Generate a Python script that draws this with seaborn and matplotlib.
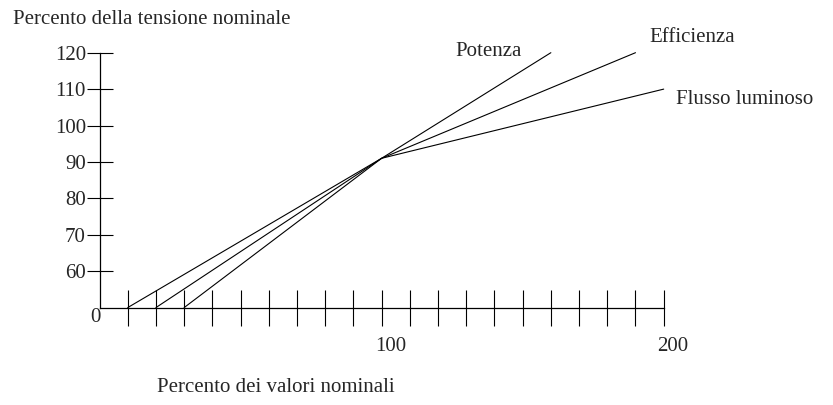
import matplotlib
matplotlib.use("Agg")
import matplotlib.pyplot as plt
import matplotlib.transforms as mtransforms
import seaborn as sns
import pandas as pd

# ---- data ----
series_names = ["Potenza", "Efficienza", "Flusso luminoso"]
potenza_x = [10, 100, 160]
potenza_y = [50, 91, 120]
efficienza_x = [20, 100, 190]
efficienza_y = [50, 91, 120]
flusso_x = [30, 100, 200]
flusso_y = [50, 91, 110]

y_ticks = [60, 70, 80, 90, 100, 110, 120]
x_ticks = list(range(10, 201, 10))
x_tick_labels = {100: "100", 200: "200"}

title_text = "Percento della tensione nominale"
xlabel_text = "Percento dei valori nominali"

rows = []
for name, xs, ys in zip(series_names,
                        [potenza_x, efficienza_x, flusso_x],
                        [potenza_y, efficienza_y, flusso_y]):
    for xv, yv in zip(xs, ys):
        rows.append({"serie": name, "x": xv, "y": yv})
df = pd.DataFrame(rows)

sns.set_theme(style="white")
plt.rcParams["font.family"] = ["Liberation Serif", "DejaVu Serif"]

W, H = 833, 405
fig = plt.figure(figsize=(W / 100, H / 100), dpi=100)
x0_px, x1_px = 99.5, 663.7
yb_px, yt_px = 307.6, 52.7
ax = fig.add_axes([x0_px / W, (H - yb_px) / H, (x1_px - x0_px) / W, (yb_px - yt_px) / H])
ax.set_facecolor("none")

sns.lineplot(data=df, x="x", y="y", hue="serie", palette=["black"] * 3,
             legend=False, sort=False, estimator=None, ax=ax,
             linewidth=0.8)
for ln in ax.get_lines():
    ln.set_clip_on(False)

ax.set_xlim(0, 200)
ax.set_ylim(50, 120)

for s in ["top", "right"]:
    ax.spines[s].set_visible(False)
for s in ["left", "bottom"]:
    ax.spines[s].set_color("black")
    ax.spines[s].set_linewidth(0.9)

fs = 15
ax.set_yticks(y_ticks)
ax.set_yticklabels([str(v) for v in y_ticks], fontsize=fs)
ax.set_xticks(x_ticks)
ax.set_xticklabels([x_tick_labels.get(v, "") for v in x_ticks], fontsize=fs)
ax.tick_params(axis="y", direction="inout", length=27 * 0.72, width=0.8,
               color="black", pad=0, left=True)
ax.tick_params(axis="x", direction="inout", length=36 * 0.72, width=0.8,
               color="black", pad=8, bottom=True)
shift = mtransforms.ScaledTranslation(9 / 100, 0, fig.dpi_scale_trans)
for lab in ax.get_xticklabels():
    lab.set_transform(lab.get_transform() + shift)
ax.set_xlabel("")
ax.set_ylabel("")
ax.grid(False)

ax.text(-1.6, 47.2, "0", fontsize=fs, ha="center", va="center", clip_on=False)

label_pos = {
    "Potenza": (126.0, 120.2),
    "Efficienza": (194.9, 124.3),
    "Flusso luminoso": (204.4, 107.2),
}
for name in series_names:
    xv, yv = label_pos[name]
    ax.text(xv, yv, name, fontsize=fs, ha="left", va="center", clip_on=False)

fig.text(12.7 / W, 1 - 20 / H, title_text, fontsize=fs, ha="left", va="center")
fig.text(157 / W, 1 - 388 / H, xlabel_text, fontsize=fs, ha="left", va="center")

fig.savefig("out.png", dpi=100, facecolor="white")
